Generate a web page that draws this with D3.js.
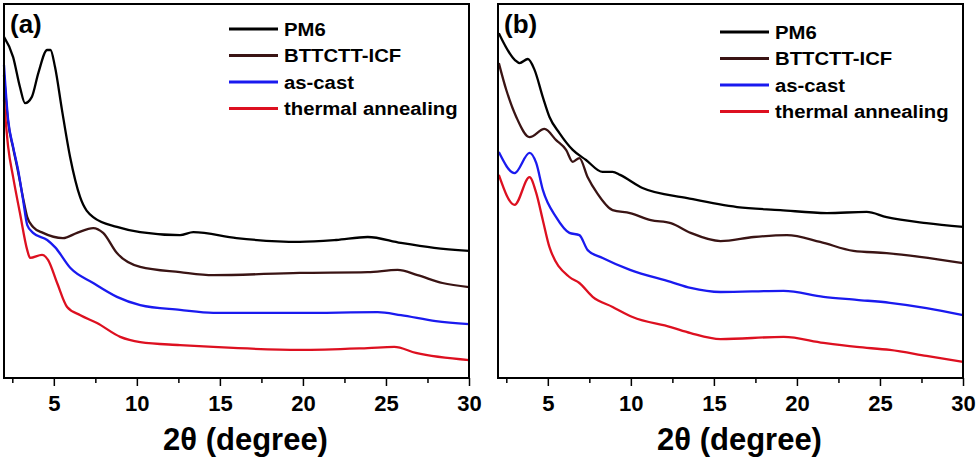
<!DOCTYPE html>
<html>
<head>
<meta charset="utf-8">
<script src="https://cdn.jsdelivr.net/npm/d3@7"></script>
<style>
  body { margin: 0; background: #fff; }
  svg { display: block; font-family: "Liberation Sans", Arial, sans-serif; font-weight: bold; }
</style>
</head>
<body>
<div id="chart"></div>
<script>
// x axis: 2theta in degrees
const xDomain = [2, 30];
const majorTicks = [5, 10, 15, 20, 25, 30];
const minorTicks = [2.5, 7.5, 12.5, 17.5, 22.5, 27.5];
const seriesNames = ["PM6", "BTTCTT-ICF", "as-cast", "thermal annealing"];
const panelLabels = ["(a)", "(b)"];

// intensity (a.u., offset traces), [2theta, intensity]
const a_pm6 = [[2.0, 91.2], [2.55, 85.8], [2.96, 77.8], [3.27, 73.5], [3.67, 75.1], [4.07, 81.6], [4.6, 87.7], [4.8, 87.7],
  [5.07, 83.2], [5.49, 71.7], [5.98, 59.1], [6.58, 48.4], [7.37, 43.0], [8.8, 40.4], [10.2, 39.0], [12.6, 38.2],
  [13.4, 39.0], [16, 37.4], [19.8, 36.4], [22, 36.9], [23.9, 37.7], [25.9, 36.1], [27.9, 34.8], [30, 34.0]];
const a_bttctt = [[2.0, 81.0], [2.25, 68.4], [2.55, 61.5], [2.85, 55.1], [3.15, 48.1], [3.4, 43.0], [3.75, 40.4], [4.35, 38.8],
  [5.55, 37.4], [6.4, 38.8], [7.37, 40.1], [7.97, 38.8], [8.8, 33.4], [10.2, 29.7], [12.6, 28.3], [14.6, 27.5],
  [19.8, 28.1], [23.9, 28.3], [25.7, 28.9], [26.9, 27.5], [28.4, 25.4], [30, 24.3]];
const a_ascast = [[2.0, 83.7], [2.25, 69.0], [2.55, 61.8], [2.85, 55.6], [3.15, 47.6], [3.4, 40.9], [3.75, 38.8], [4.6, 36.9],
  [5.07, 35.0], [6.0, 29.4], [7.37, 25.4], [8.8, 21.7], [10.2, 19.5], [12.6, 18.2], [14.6, 17.4], [19.8, 17.4],
  [24.5, 17.6], [25.9, 16.8], [28, 15.2], [30, 14.4]];
const a_anneal = [[2.0, 74.3], [2.25, 61.8], [2.55, 53.7], [2.96, 44.1], [3.4, 34.2], [3.57, 32.1], [4.29, 32.9], [4.65, 31.6],
  [5.2, 25.4], [5.8, 19.0], [6.6, 16.8], [7.6, 14.7], [9.0, 11.0], [10.2, 9.6], [12.6, 8.8], [14.6, 8.3],
  [19.8, 7.5], [23.9, 8.0], [25.5, 8.3], [26.8, 6.7], [30, 4.8]];

const b_pm6 = [[2.05, 92.2], [3.02, 85.0], [3.3, 84.2], [3.8, 85.3], [4.2, 82.4], [4.7, 75.1], [5.1, 69.8], [5.7, 65.5],
  [6.5, 61.0], [7.3, 58.3], [8.3, 55.1], [8.9, 55.1], [9.35, 54.3], [10.7, 50.8], [13.4, 48.1], [16.4, 45.7],
  [19.0, 44.9], [21.8, 44.1], [24.2, 44.4], [25.4, 43.0], [27.8, 41.4], [30, 40.4]];
const b_bttctt = [[2.05, 84.2], [2.5, 77.0], [3.1, 69.8], [3.9, 64.4], [4.8, 66.6], [5.5, 63.6], [6.1, 61.0], [6.5, 57.8],
  [6.9, 58.8], [7.4, 53.7], [7.96, 49.5], [8.9, 44.9], [9.95, 44.1], [11.2, 42.2], [12.4, 41.4], [13.6, 38.8],
  [15.4, 36.6], [17.4, 37.7], [19.4, 38.2], [21.4, 36.4], [23.4, 34.0], [25.4, 33.4], [27.4, 32.4], [30, 30.7]];
const b_ascast = [[2.05, 60.4], [3.0, 54.8], [3.9, 60.2], [4.3, 57.5], [4.7, 50.3], [5.5, 43.0], [6.3, 38.8], [6.9, 38.2],
  [7.4, 34.2], [8.3, 32.1], [9.95, 28.9], [12.4, 25.7], [13.6, 24.1], [15.4, 23.0], [19.2, 23.3], [21.6, 21.7],
  [23.6, 20.9], [25.6, 20.1], [27.8, 18.7], [30, 16.8]];
const b_anneal = [[2.05, 54.3], [3.0, 46.3], [3.9, 53.7], [4.3, 49.5], [4.7, 42.2], [5.1, 35.0], [6.3, 27.0], [6.9, 25.4],
  [7.7, 21.7], [8.9, 19.0], [10.1, 16.3], [12.4, 13.6], [13.6, 12.0], [15.4, 10.4], [19.2, 11.0], [21.6, 9.4],
  [23.6, 8.3], [25.6, 7.5], [27.8, 5.9], [30, 4.3]];

const colors = ["#000000", "#3a1414", "#1a1aef", "#dd1020"];

const width = 980, height = 460;
const svg = d3.select("#chart").append("svg")
  .attr("width", width)
  .attr("height", height);

const panels = [
  { left: 4, right: 469, label: panelLabels[0], series: [a_pm6, a_bttctt, a_ascast, a_anneal],
    legendX: 229, legendY: [29, 55.5, 82, 108.5] },
  { left: 498, right: 963, label: panelLabels[1], series: [b_pm6, b_bttctt, b_ascast, b_anneal],
    legendX: 720, legendY: [32, 58.5, 85, 111.5] }
];
const plotTop = 4, plotBottom = 378;

const y = d3.scaleLinear().domain([0, 100]).range([plotBottom, plotTop]);

panels.forEach(function (p) {
  const x = d3.scaleLinear().domain(xDomain).range([p.left, p.right]);
  const g = svg.append("g");

  const line = d3.line()
    .x(d => x(d[0]))
    .y(d => y(d[1]))
    .curve(d3.curveMonotoneX);

  g.selectAll("path.trace")
    .data(p.series)
    .enter()
    .append("path")
    .attr("class", "trace")
    .attr("d", line)
    .attr("fill", "none")
    .attr("stroke", (d, i) => colors[i])
    .attr("stroke-width", 2.3)
    .attr("stroke-linejoin", "round");

  // frame
  g.append("rect")
    .attr("x", p.left)
    .attr("y", plotTop)
    .attr("width", p.right - p.left)
    .attr("height", plotBottom - plotTop)
    .attr("fill", "none")
    .attr("stroke", "#000")
    .attr("stroke-width", 2);

  // minor ticks
  const minor = g.append("g")
    .attr("transform", `translate(0,${plotBottom})`)
    .call(d3.axisBottom(x).tickValues(minorTicks).tickSize(5).tickFormat(""));
  minor.select(".domain").remove();
  minor.selectAll("line").attr("stroke-width", 1.5);

  // major ticks
  const major = g.append("g")
    .attr("transform", `translate(0,${plotBottom})`)
    .call(d3.axisBottom(x).tickValues(majorTicks).tickSize(8).tickFormat(d3.format("d")));
  major.select(".domain").remove();
  major.selectAll("line").attr("stroke-width", 1.5);
  major.selectAll("text")
    .attr("dy", null)
    .attr("y", 33)
    .attr("fill", "#000")
    .style("font-size", "22px")
    .style("font-weight", "bold")
    .style("font-family", "'Liberation Sans', Arial, sans-serif");

  // axis title
  g.append("text")
    .attr("x", (p.left + p.right) / 2 + 9)
    .attr("y", 450)
    .attr("text-anchor", "middle")
    .style("font-size", "31px")
    .text("2θ (degree)");

  // panel label
  g.append("text")
    .attr("x", p.left + 6)
    .attr("y", 33)
    .style("font-size", "26px")
    .text(p.label);

  // legend
  const legend = g.selectAll("g.legend")
    .data(seriesNames)
    .enter()
    .append("g")
    .attr("class", "legend")
    .attr("transform", (d, i) => `translate(${p.legendX},${p.legendY[i]})`);

  legend.append("line")
    .attr("x1", 0)
    .attr("x2", 49)
    .attr("stroke", (d, i) => colors[i])
    .attr("stroke-width", 3);

  legend.append("text")
    .attr("transform", "translate(55,6.5) scale(1.16,1)")
    .style("font-size", "17.5px")
    .text(d => d);
});
</script>
</body>
</html>
